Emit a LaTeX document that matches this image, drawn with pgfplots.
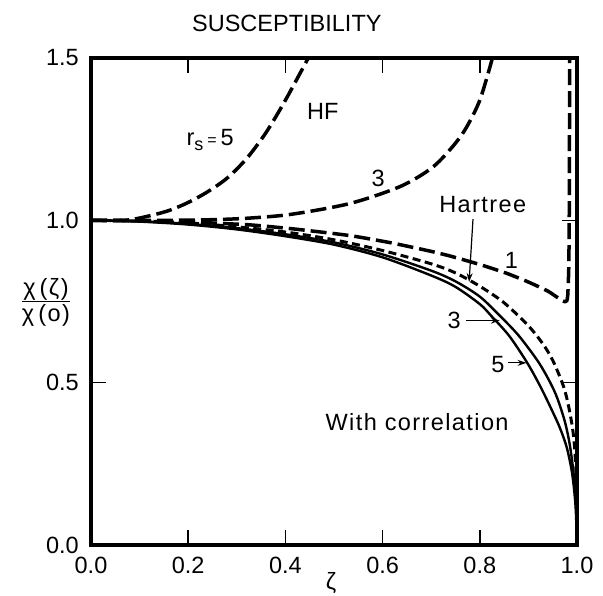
\documentclass[border=0pt]{standalone}
\usepackage{fontspec}
\setmainfont{Liberation Sans}
\newfontfamily\widefont[LetterSpace=6]{Liberation Sans}
\usepackage{pgfplots}
\pgfplotsset{compat=1.18}
\usetikzlibrary{arrows.meta}
\newcommand{\bigf}{\fontsize{23.5bp}{27bp}\selectfont}
\begin{document}
\begin{tikzpicture}
\begin{axis}[
  at={(91bp,51bp)}, anchor=south west,
  scale only axis, width=486bp, height=487bp,
  xmin=0, xmax=1, ymin=0, ymax=1.5,
  xtick={0,0.2,0.4,0.6,0.8,1.0}, ytick={0,0.5,1.0,1.5},
  /pgf/number format/.cd, fixed, fixed zerofill, precision=1, assume math mode=true,
  /pgfplots/.cd,
  tick align=inside, major tick length=15bp,
  tick style={line width=1.6bp, black},
  axis line style={line width=3.8bp},
  tick label style={font=\bigf},
  yticklabel style={inner sep=0pt, xshift=-12bp},
  xticklabel style={inner sep=0pt, yshift=-12bp},
  clip mode=individual,
]
% HF r_s = 5
\addplot[black, line width=3.5bp, dash pattern=on 16bp off 6bp, smooth, tension=0.5] coordinates {
 (0,1) (0.07,1.0) (0.115,1.012) (0.16,1.03) (0.2,1.055) (0.24,1.088) (0.28,1.13) (0.32,1.19) (0.36,1.27) (0.40,1.37) (0.447,1.5)};
% HF r_s = 3
\addplot[black, line width=3.5bp, dash pattern=on 16bp off 6bp, smooth, tension=0.5] coordinates {
 (0,1) (0.15,1.0) (0.25,1.002) (0.327,1.007) (0.414,1.019) (0.533,1.052) (0.636,1.104) (0.70,1.16) (0.74,1.22) (0.77,1.28) (0.8,1.37) (0.826,1.5)};
% HF r_s = 1
\addplot[black, line width=3.5bp, dash pattern=on 16bp off 6bp, line join=round, smooth, tension=0.3] coordinates {
 (0,1) (0.1,0.999) (0.2,0.995) (0.327,0.986) (0.42,0.973) (0.533,0.953) (0.62,0.93) (0.698,0.905) (0.739,0.89) (0.8,0.864) (0.855,0.837) (0.9,0.81) (0.94,0.782) (0.965,0.757) (0.975,0.749) (0.979,0.752) (0.981,0.77) (0.983,0.85) (0.984,1.0) (0.985,1.5)};
% Hartree
\addplot[black, line width=3bp, dash pattern=on 8bp off 4.5bp, smooth, tension=0.5] coordinates {
 (0,1) (0.1,0.998) (0.2,0.992) (0.3,0.98) (0.4,0.964) (0.5,0.94) (0.6,0.907) (0.7,0.866) (0.75,0.838) (0.8,0.797) (0.85,0.746) (0.9,0.675) (0.93,0.619) (0.95,0.569) (0.97,0.498) (0.98,0.446) (0.99,0.368) (0.995,0.301) (0.999,0.185) (1.0,0)};
% with correlation r_s = 3
\addplot[black, line width=2.4bp, smooth, tension=0.5] coordinates {
 (0,1) (0.1,0.997) (0.2,0.989) (0.3,0.976) (0.4,0.957) (0.5,0.932) (0.6,0.895) (0.7,0.845) (0.75,0.812) (0.8,0.765) (0.842,0.705) (0.88,0.645) (0.92,0.565) (0.945,0.50) (0.96,0.45) (0.975,0.38) (0.985,0.31) (0.993,0.22) (0.998,0.12) (1,0)};
% with correlation r_s = 5
\addplot[black, line width=2.4bp, smooth, tension=0.5] coordinates {
 (0,1) (0.1,0.996) (0.2,0.987) (0.3,0.972) (0.4,0.951) (0.5,0.925) (0.6,0.886) (0.7,0.83) (0.75,0.795) (0.8,0.742) (0.824,0.705) (0.86,0.645) (0.896,0.565) (0.924,0.49) (0.95,0.41) (0.965,0.36) (0.979,0.30) (0.99,0.22) (0.997,0.12) (1,0)};
% annotations
\node[font=\bigf] at (axis cs:0.403,1.608) {SUSCEPTIBILITY};
\node[font=\bigf] at (axis cs:0.245,1.247) {r\raisebox{-0.35ex}{\fontsize{18bp}{20bp}\selectfont s}\,{\fontsize{16bp}{18bp}\selectfont =}\,5};
\node[font=\bigf] at (axis cs:0.477,1.334) {HF};
\node[font=\bigf] at (axis cs:0.591,1.130) {3};
\node[font=\bigf\widefont] at (axis cs:0.806,1.050) {Hartree};
\draw[line width=1.2bp, -{Stealth[length=9bp,width=6bp]}] (axis cs:0.786,1.004) -- (axis cs:0.778,0.81);
\node[font=\bigf] at (axis cs:0.865,0.878) {1};
\node[font=\bigf] at (axis cs:0.747,0.691) {3};
\draw[line width=1.2bp, -{Stealth[length=9bp,width=6bp]}] (axis cs:0.772,0.691) -- (axis cs:0.841,0.691);
\node[font=\bigf] at (axis cs:0.837,0.556) {5};
\draw[line width=1.2bp, -{Stealth[length=9bp,width=6bp]}] (axis cs:0.858,0.561) -- (axis cs:0.896,0.561);
\node[font=\bigf\widefont] at (axis cs:0.671,0.379) {With correlation};
\node[font=\bigf] at (axis cs:-0.0926,0.745) {$\vcenter{\hbox{\begin{tabular}{@{}c@{}}χ\hspace{4bp}(\hspace{1.5bp}ζ\hspace{1.5bp})\\[-3bp]\hline\noalign{\vskip 1bp}χ\hspace{4bp}(\hspace{1.5bp}o\hspace{1.5bp})\end{tabular}}}$};
\node[font=\bigf] at (axis cs:0.494,-0.117) {ζ};
\end{axis}
\pgfresetboundingbox
\path (0,0) rectangle (603bp,596bp);
\end{tikzpicture}
\end{document}
